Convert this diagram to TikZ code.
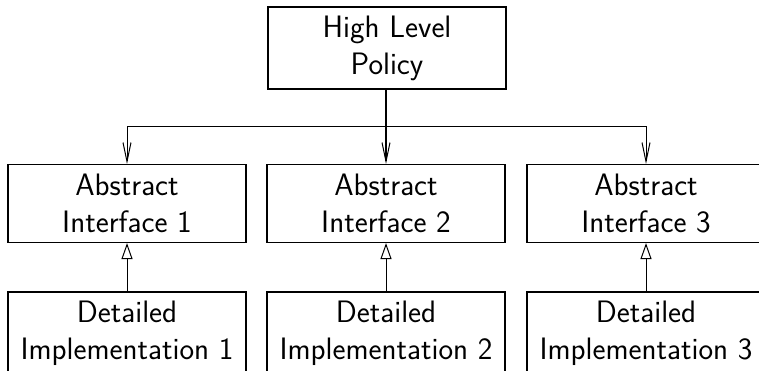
\documentclass[tikz,border=0pt]{standalone}
\usetikzlibrary{arrows.meta}
\begin{document}
\begin{tikzpicture}[x=1pt,y=-1pt,
  box/.style={draw,line width=1.1pt,minimum width=238pt,inner sep=0pt,
    align=center,font=\fontsize{31}{37}\sffamily},
  uses/.style={line width=1pt,-{Straight Barb[length=19pt,width=8pt,line width=1pt]}},
  implements/.style={line width=1pt,-{Triangle[open,length=16pt,width=11pt,line width=1pt]}}]
\useasboundingbox (0,0) rectangle (759,371);
\begin{scope}
\clip (0,0) rectangle (759,371);
% policy layer
\node[box,minimum height=82pt] (hl) at (387,48) {High Level\\Policy};
% abstract interfaces
\node[box,minimum height=78pt] (a1) at (127,203.5) {Abstract\\Interface 1};
\node[box,minimum height=78pt] (a2) at (386,203.5) {Abstract\\Interface 2};
\node[box,minimum height=78pt] (a3) at (646,203.5) {Abstract\\Interface 3};
% detailed implementations
\node[box,minimum height=82pt] (d1) at (127,333) {Detailed\\Implementation 1};
\node[box,minimum height=82pt] (d2) at (386,333) {Detailed\\Implementation 2};
\node[box,minimum height=82pt] (d3) at (646,333) {Detailed\\Implementation 3};
\end{scope}
% dependency fan-out
\coordinate (bus) at (386,127);
\draw[uses,line width=1.3pt] (hl.south -| a2.north) -- (a2.north);
\draw[uses] (bus) -- (bus -| a1.north) -- (a1.north);
\draw[uses] (bus) -- (bus -| a3.north) -- (a3.north);
% realisation arrows
\draw[implements] (d1.north) -- (a1.south);
\draw[implements] (d2.north) -- (a2.south);
\draw[implements] (d3.north) -- (a3.south);
\end{tikzpicture}
\end{document}
